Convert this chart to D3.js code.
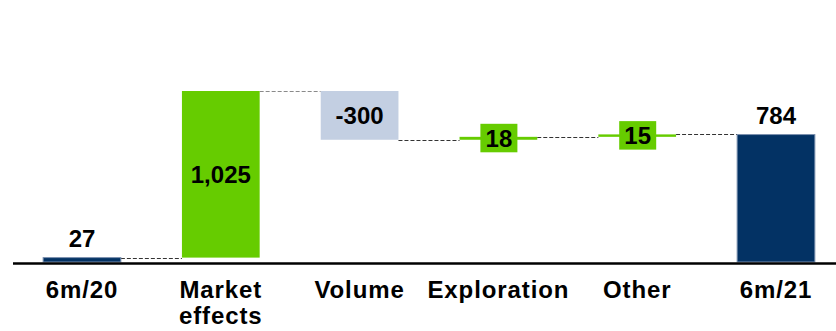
<!DOCTYPE html>
<html>
<head>
<meta charset="utf-8">
<script src="https://cdn.jsdelivr.net/npm/d3@7"></script>
<style>
  html, body { margin: 0; padding: 0; background: #fff; }
  svg { display: block; }
  text { font-family: "Liberation Sans", Arial, sans-serif; font-weight: bold; fill: #000; }
</style>
</head>
<body>
<svg id="chart" width="836" height="331"></svg>
<script>
// ---- data ----
const categories = ["6m/20", "Market effects", "Volume", "Exploration", "Other", "6m/21"];
const values = [27, 1025, -300, 18, 15, 784];
const kinds = ["total", "delta", "delta", "delta", "delta", "total"];
const valueLabels = ["27", "1,025", "-300", "18", "15", "784"];
const axisLabelLines = [["6m/20"], ["Market", "effects"], ["Volume"], ["Exploration"], ["Other"], ["6m/21"]];

// ---- layout ----
const W = 836, H = 331;
const svg = d3.select("#chart");

const x = d3.scaleBand()
  .domain(categories)
  .range([12.6, 845.4])
  .paddingInner(0.44)
  .paddingOuter(0.22);

const y = d3.scaleLinear().domain([0, 1052]).range([262, 91]);

// compute waterfall start/end
let running = 0;
const bars = categories.map((c, i) => {
  let start, end;
  if (kinds[i] === "total") { start = 0; end = values[i]; running = values[i]; }
  else { start = running; end = running + values[i]; running = end; }
  return { cat: c, start, end, value: values[i], kind: kinds[i], label: valueLabels[i], i };
});

const colorFor = d => d.kind === "total" ? "#033264" : (d.value >= 0 ? "#66cc00" : "#c3cfe2");

// connectors
const conn = svg.append("g");
for (let i = 0; i < bars.length - 1; i++) {
  const a = bars[i];
  const level = a.end;
  conn.append("line")
    .attr("x1", x(a.cat) + x.bandwidth())
    .attr("x2", x(bars[i + 1].cat))
    .attr("y1", Math.round(y(level)) + 0.5)
    .attr("y2", Math.round(y(level)) + 0.5)
    .attr("stroke", i === 1 ? "#8a8a8a" : "#333")
    .attr("stroke-width", 1)
    .attr("stroke-dasharray", "4,2");
}

// bars
svg.append("g").selectAll("rect")
  .data(bars)
  .join("rect")
  .attr("x", d => x(d.cat))
  .attr("width", x.bandwidth())
  .attr("y", d => y(Math.max(d.start, d.end)))
  .attr("height", d => Math.max(2, Math.abs(y(d.start) - y(d.end))))
  .attr("fill", colorFor)
  .attr("stroke", d => d.kind === "total" ? "#7a8fae" : "none")
  .attr("stroke-width", 1);

// value labels
const lab = svg.append("g");
bars.forEach(d => {
  const cx = x(d.cat) + x.bandwidth() / 2;
  const top = y(Math.max(d.start, d.end));
  const bot = y(Math.min(d.start, d.end));
  const mid = (top + bot) / 2;
  if (d.kind === "total") {
    lab.append("text").attr("x", cx).attr("y", top - 11)
      .attr("text-anchor", "middle").attr("font-size", 24).text(d.label);
  } else if (Math.abs(bot - top) > 30) {
    lab.append("text").attr("x", cx).attr("y", mid + 8.5)
      .attr("text-anchor", "middle").attr("font-size", 24).text(d.label);
  } else {
    lab.append("rect")
      .attr("x", cx - 18).attr("y", mid - 14.5)
      .attr("width", 37).attr("height", 28.5)
      .attr("fill", colorFor(d));
    lab.append("text").attr("x", cx + 0.5).attr("y", mid + 8.5)
      .attr("text-anchor", "middle").attr("font-size", 24).text(d.label);
  }
});

// baseline axis
svg.append("line")
  .attr("x1", 13).attr("x2", W)
  .attr("y1", y(0) + 1.5).attr("y2", y(0) + 1.5)
  .attr("stroke", "#000").attr("stroke-width", 2.5);

// category labels
const ax = svg.append("g");
categories.forEach((c, i) => {
  const t = ax.append("text")
    .attr("x", x(c) + x.bandwidth() / 2)
    .attr("y", 298)
    .attr("text-anchor", "middle")
    .attr("font-size", 24)
    .attr("letter-spacing", "0.9px");
  axisLabelLines[i].forEach((ln, j) => {
    t.append("tspan").attr("x", x(c) + x.bandwidth() / 2).attr("dy", j === 0 ? 0 : 26).text(ln);
  });
});
</script>
</body>
</html>
